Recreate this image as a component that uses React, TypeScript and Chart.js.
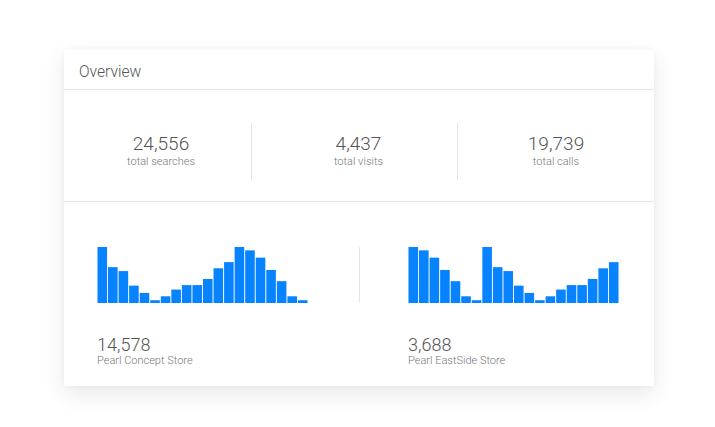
import React, { useEffect, useRef } from "react";
import { Chart, registerables } from "chart.js";

Chart.register(...registerables);

const categories = ["1", "2", "3", "4", "5", "6", "7", "8", "9", "10", "11", "12", "13", "14", "15", "16", "17", "18", "19", "20"];
const conceptValues = [100, 64, 57, 31, 18, 5, 12, 24, 32, 32, 43, 62, 73, 100, 94, 81, 59, 39, 12, 5];
const eastsideValues = [100, 94, 81, 59, 39, 12, 5, 100, 64, 57, 31, 18, 5, 12, 24, 32, 32, 43, 62, 73];

const statValues = ["24,556", "4,437", "19,739"];
const statLabels = ["total searches", "total visits", "total calls"];
const storeTotals = ["14,578", "3,688"];
const storeNames = ["Pearl Concept Store", "Pearl EastSide Store"];

const FONT = "Roboto, 'Noto Sans', sans-serif";

function Bars({ values, left }: { values: number[]; left: number }) {
  const ref = useRef<HTMLCanvasElement | null>(null);
  useEffect(() => {
    if (!ref.current) return;
    const chart = new Chart(ref.current, {
      type: "bar",
      data: {
        labels: categories,
        datasets: [
          {
            data: values,
            backgroundColor: "#0783ff",
            borderWidth: 0,
            barPercentage: 0.91,
            categoryPercentage: 1,
          },
        ],
      },
      options: {
        responsive: false,
        maintainAspectRatio: false,
        animation: false,
        layout: { padding: 0 },
        plugins: { legend: { display: false }, tooltip: { enabled: false } },
        scales: {
          x: { display: false, grid: { display: false } },
          y: { display: false, min: 0, max: 100, grid: { display: false } },
        },
      },
    });
    return () => chart.destroy();
  }, [values]);
  return (
    <canvas
      ref={ref}
      width={211}
      height={56}
      style={{ position: "absolute", left, top: 247, width: 211, height: 56 }}
    />
  );
}

export default function App() {
  const statCenters = [161, 358.5, 556];
  const storeLefts = [97, 408];
  return (
    <div
      style={{
        position: "fixed",
        left: 0,
        top: 0,
        width: 715,
        height: 427,
        background: "#ffffff",
        fontFamily: FONT,
        overflow: "hidden",
      }}
    >
      <div
        style={{
          position: "absolute",
          left: 64,
          top: 50,
          width: 590,
          height: 336,
          background: "#ffffff",
          boxShadow: "0 8px 22px rgba(0,0,0,0.09), 0 0 6px rgba(0,0,0,0.04)",
        }}
      />
      <div
        style={{
          position: "absolute",
          left: 79,
          top: 63.5,
          fontSize: 15.6,
          lineHeight: "16px",
          fontWeight: 300,
          color: "#555",
          whiteSpace: "nowrap",
        }}
      >
        Overview
      </div>
      <div style={{ position: "absolute", left: 64, top: 89, width: 590, height: 1, background: "#e3e3e3" }} />
      <div style={{ position: "absolute", left: 64, top: 201, width: 590, height: 1, background: "#e3e3e3" }} />
      <div style={{ position: "absolute", left: 251, top: 123, width: 1, height: 57, background: "#e6e6e6" }} />
      <div style={{ position: "absolute", left: 457, top: 123, width: 1, height: 57, background: "#e6e6e6" }} />
      <div style={{ position: "absolute", left: 359, top: 247, width: 1, height: 56, background: "#e6e6e6" }} />
      {statValues.map((v, i) => (
        <React.Fragment key={v}>
          <div
            style={{
              position: "absolute",
              left: statCenters[i] - 100,
              width: 200,
              top: 134,
              textAlign: "center",
              fontSize: 19,
              lineHeight: "19px",
              fontWeight: 300,
              color: "#555",
            }}
          >
            {v}
          </div>
          <div
            style={{
              position: "absolute",
              left: statCenters[i] - 100,
              width: 200,
              top: 155.5,
              textAlign: "center",
              fontSize: 11,
              lineHeight: "11px",
              fontWeight: 300,
              color: "#777",
            }}
          >
            {statLabels[i]}
          </div>
        </React.Fragment>
      ))}
      <Bars values={conceptValues} left={97} />
      <Bars values={eastsideValues} left={408} />
      {storeTotals.map((v, i) => (
        <React.Fragment key={v}>
          <div
            style={{
              position: "absolute",
              left: storeLefts[i],
              top: 335.5,
              fontSize: 18,
              lineHeight: "18px",
              fontWeight: 300,
              color: "#555",
              whiteSpace: "nowrap",
            }}
          >
            {v}
          </div>
          <div
            style={{
              position: "absolute",
              left: storeLefts[i],
              top: 354.5,
              fontSize: 11,
              lineHeight: "11px",
              fontWeight: 300,
              color: "#777",
              whiteSpace: "nowrap",
            }}
          >
            {storeNames[i]}
          </div>
        </React.Fragment>
      ))}
    </div>
  );
}
